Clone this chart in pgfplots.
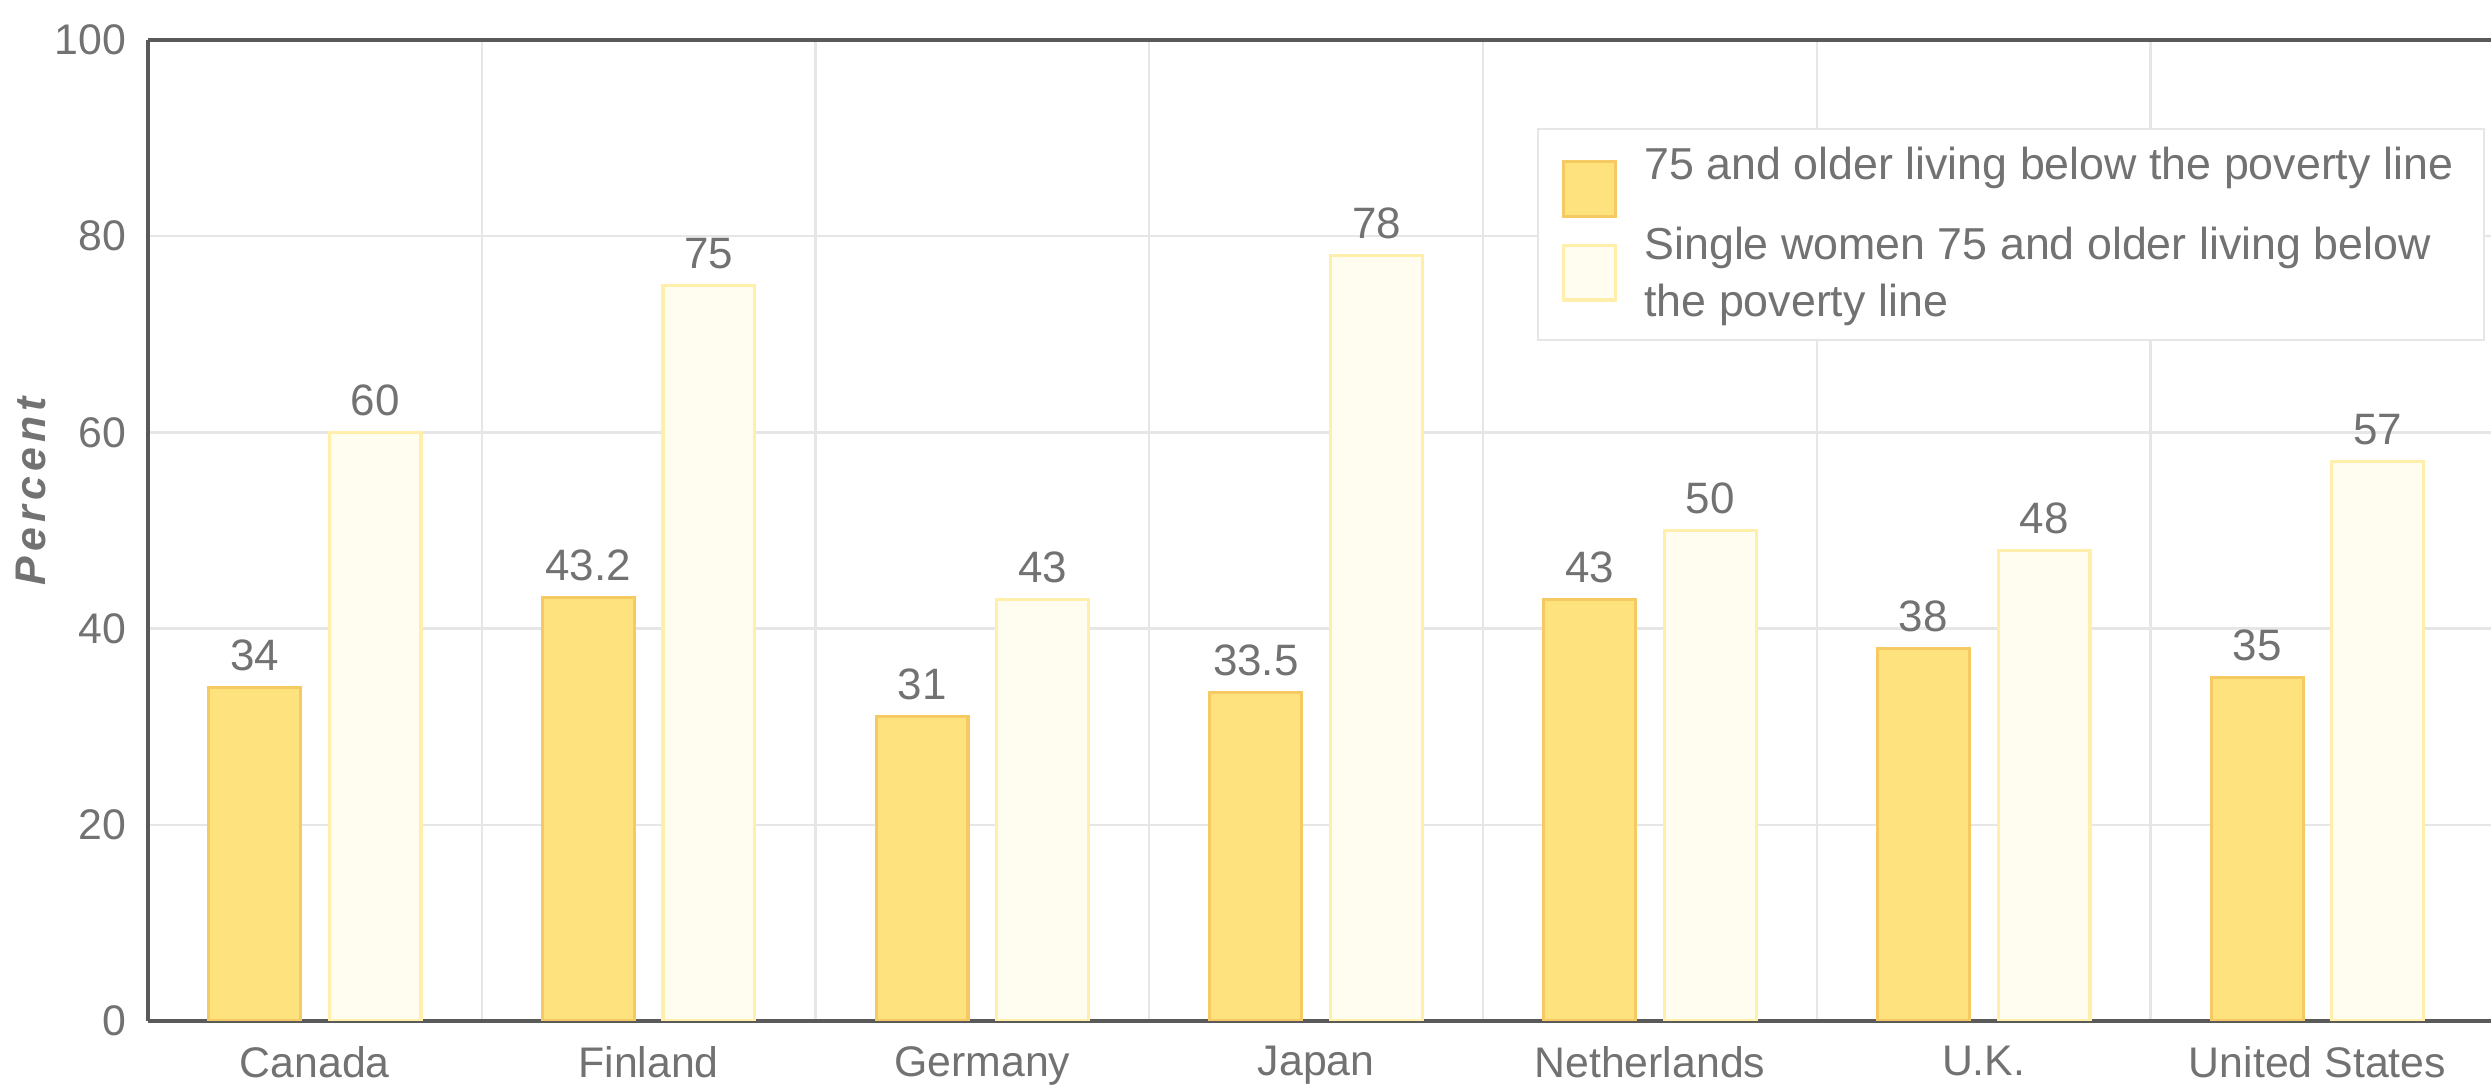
\documentclass[border=0pt]{standalone}
\usepackage{fontspec}
\setmainfont{Liberation Sans}
\newfontfamily\labfont[LetterSpace=12]{Liberation Sans}
\usepackage{pgfplots}
\pgfplotsset{compat=1.18}
\definecolor{txt}{HTML}{727272}
\definecolor{barA}{HTML}{FEE27E}
\definecolor{barAedge}{HTML}{F6CA62}
\definecolor{barB}{HTML}{FFFDF0}
\definecolor{barBedge}{HTML}{FFEFAA}
\definecolor{gridc}{HTML}{E6E6E6}
\definecolor{axc}{HTML}{5A5A5A}
\pgfplotsset{
  legA/.style={legend image code/.code={\draw[##1,/tikz/.cd,line width=0.8pt] (0pt,-13pt) rectangle (13.5pt,1pt);}},
  legB/.style={legend image code/.code={\draw[##1,/tikz/.cd,line width=0.8pt] (0pt,-6.5pt) rectangle (13.5pt,7.5pt);}},
}
\begin{document}
\begin{tikzpicture}
\begin{axis}[name=ax,
  scale only axis, width=602pt, height=252pt,
  xmin=-0.5, xmax=6.52, ymin=0, ymax=100,
  axis x line*=box, axis y line*=left,
  axis line style={axc, line width=1pt},
  xtick={0,1,2,3,4,5,6},
  xticklabels={Canada,Finland,Germany,Japan,Netherlands,U.K.,United States},
  minor xtick={0.5,1.5,2.5,3.5,4.5,5.5},
  ytick={0,20,40,60,80,100},
  major tick length=0pt, minor tick length=0pt,
  ymajorgrids, xminorgrids,
  grid style={gridc, line width=0.6pt},
  minor grid style={gridc, line width=0.6pt},
  /pgf/number format/assume math mode=true,
  tick label style={font=\fontsize{11}{13}\selectfont, text=txt},
  yticklabel style={xshift=-2pt},
  xticklabel style={yshift=-3pt},
  ylabel={\labfont\bfseries\itshape Percent},
  ylabel style={at={(axis description cs:-0.05,0.54)}, anchor=center, text=txt, font=\fontsize{11}{13}\selectfont},
  ybar, bar width=23.6pt,
  nodes near coords,
  nodes near coords style={font=\fontsize{11.3}{13}\selectfont, text=txt, anchor=south, yshift=0.5pt},
  legend style={at={(0.593,0.91)}, anchor=north west, draw=gridc, fill=white,
    font=\fontsize{11.5}{14.7}\selectfont, text=txt,
    cells={anchor=west, align=left},
    inner xsep=6pt, inner ysep=2.5pt, row sep=0.3pt, column sep=5pt},
]
\addplot[fill=barA, draw=barAedge, line width=0.8pt, bar shift=-15.5pt, legA] coordinates
  {(0,34) (1,43.2) (2,31) (3,33.5) (4,43) (5,38) (6,35)};
\addlegendentry{75 and older living below the poverty line}
\addplot[fill=barB, draw=barBedge, line width=0.8pt, bar shift=15.5pt, legB] coordinates
  {(0,60) (1,75) (2,43) (3,78) (4,50) (5,48) (6,57)};
\addlegendentry{Single women 75 and older living below\\the poverty line}
\end{axis}
\pgfresetboundingbox
\path[use as bounding box] ([xshift=-38pt,yshift=-16.5pt]ax.south west) rectangle ([yshift=10.3pt]ax.north east);
\end{tikzpicture}
\end{document}
